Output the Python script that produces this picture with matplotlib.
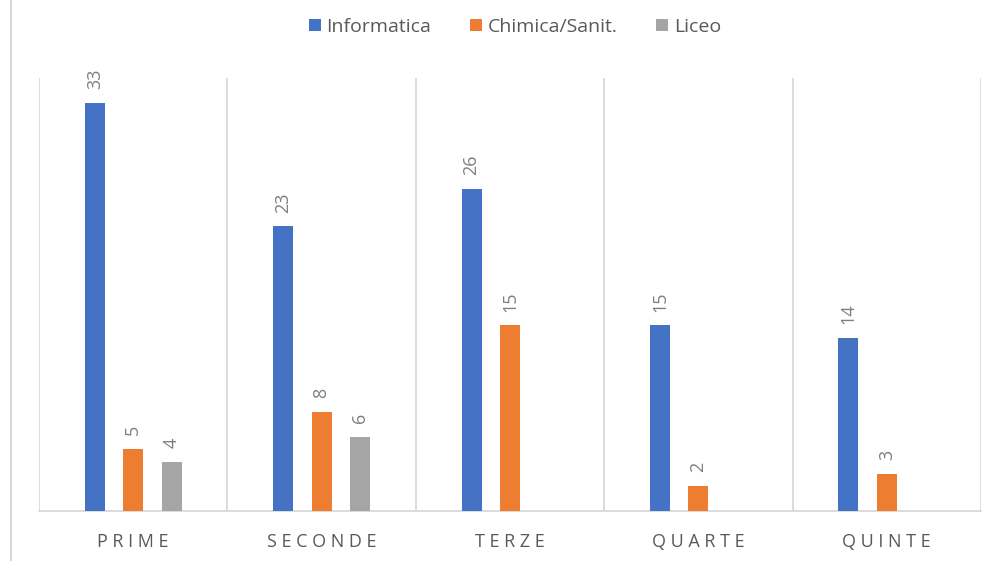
import numpy as np
import matplotlib
matplotlib.use('Agg')
import matplotlib.pyplot as plt
from matplotlib.lines import Line2D

plt.rcParams['font.family'] = ['Open Sans', 'DejaVu Sans']

categories = ['PRIME', 'SECONDE', 'TERZE', 'QUARTE', 'QUINTE']
series_names = ['Informatica', 'Chimica/Sanit.', 'Liceo']
informatica = [33, 23, 26, 15, 14]
chimica = [5, 8, 15, 2, 3]
liceo = [4, 6, None, None, None]

colors = ['#4472C4', '#ED7D31', '#A5A5A5']
grid_col = '#D9D9D9'
text_col = '#595959'
label_col = '#7F7F7F'

fig = plt.figure(figsize=(9.97, 5.61), dpi=100)
ax = fig.add_axes([39 / 997, 50 / 561, (981 - 39) / 997, (511 - 78) / 561])

x = np.arange(len(categories))
width = 0.106
step = 0.204
for i, (name, vals) in enumerate(zip(series_names, [informatica, chimica, liceo])):
    v = np.array([np.nan if a is None else a for a in vals], dtype=float)
    pos = x + (i - 1) * step
    ax.bar(pos, v, width, color=colors[i], label=name, zorder=3)
    for p, val in zip(pos, v):
        if not np.isnan(val):
            ax.annotate(f'{int(val)}', (p, val), xytext=(0, 10), textcoords='offset points',
                        rotation=90, ha='center', va='bottom', fontsize=13, color=label_col)

ax.set_xlim(-0.5, len(categories) - 0.5)
ax.set_ylim(0, 35)
ax.set_yticks([])
ax.set_xticks(x)
ax.set_xticklabels([' '.join(c) for c in categories], fontsize=13, color=text_col)
ax.tick_params(axis='x', length=0, pad=16)
ax.set_xticks(np.arange(-0.5, len(categories), 1), minor=True)
ax.tick_params(axis='x', which='minor', length=0)
ax.grid(axis='x', which='minor', color=grid_col, linewidth=1.3, zorder=0)
for s in ['top', 'left', 'right']:
    ax.spines[s].set_visible(False)
ax.spines['bottom'].set_color(grid_col)
ax.spines['bottom'].set_linewidth(1.3)

leg = fig.legend(loc='center', bbox_to_anchor=(515 / 997, 1 - 27 / 561), ncol=3, frameon=False,
                 fontsize=14, handlelength=0.6, handleheight=0.6, handletextpad=0.3,
                 columnspacing=2.0)
for t in leg.get_texts():
    t.set_color(text_col)

fig.add_artist(Line2D([10.5 / 997, 10.5 / 997], [0, 1], color=grid_col, linewidth=1.5))

fig.savefig('out.png', dpi=100)
